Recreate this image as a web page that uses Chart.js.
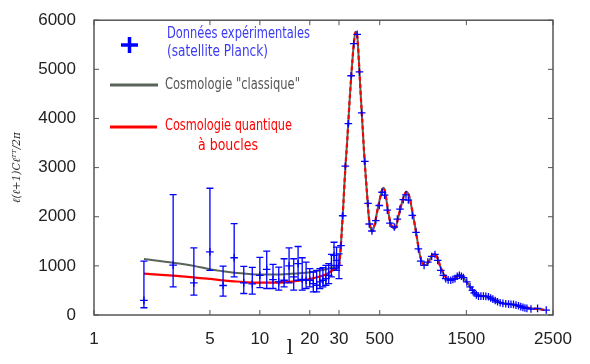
<!DOCTYPE html>
<html>
<head>
<meta charset="utf-8">
<script src="https://cdn.jsdelivr.net/npm/chart.js@4"></script>
<style>
  html, body { margin: 0; padding: 0; background: #fff; }
  #wrap { width: 590px; height: 364px; }
</style>
</head>
<body>
<div id="wrap"><canvas id="chart" width="590" height="364"></canvas></div>
<script>
// tick labels of the hybrid x axis (log up to 30, linear after)
const tickValues = [1, 5, 10, 20, 30, 500, 1500, 2500];

// low-l Planck points with asymmetric error bars
const lowL = [2, 3, 4, 5, 6, 7, 8, 9, 10, 11, 12, 13, 14, 15, 16, 17, 18, 19, 20, 21, 22, 23, 24, 25, 26, 27, 28, 29, 30];
const lowD = [297, 1016, 653, 1286, 600, 1165, 653, 633, 808, 929, 721, 673, 707, 1000, 774, 1044, 727, 707, 707, 640, 606, 673, 707, 741, 808, 1010, 1212, 1111, 1010];
const lowUp = [1097, 2451, 1368, 2580, 996, 1859, 990, 970, 1172, 1300, 1030, 976, 1145, 1368, 1145, 1394, 1165, 1077, 943, 875, 909, 943, 963, 1010, 1044, 1232, 1481, 1380, 1246];
const lowDown = [148, 572, 404, 909, 384, 774, 438, 424, 559, 539, 539, 505, 572, 653, 505, 707, 505, 539, 572, 471, 471, 539, 572, 606, 640, 774, 943, 909, 741];

// high-l binned points
const highL = [53, 73, 103, 138, 170, 200, 240, 266, 292, 328, 365, 379, 410, 455, 495, 528, 556, 587, 618, 668, 703, 734, 772, 803, 830, 876, 919, 946, 973, 1012, 1055, 1100, 1138, 1169, 1204, 1234, 1262, 1290, 1320, 1345, 1369, 1395, 1419, 1443, 1466, 1505, 1543, 1570, 1590, 1615, 1640, 1668, 1697, 1725, 1755, 1780, 1806, 1833, 1860, 1890, 1922, 1955, 1987, 2015, 2044, 2073, 2102, 2128, 2153, 2176, 2199, 2246, 2322, 2422];
const highD = [1414, 2020, 3030, 3893, 4869, 5522, 5711, 4949, 4114, 3128, 2270, 1852, 1710, 1919, 2229, 2498, 2440, 2135, 1869, 1791, 1953, 2155, 2347, 2444, 2340, 2027, 1683, 1347, 1097, 1010, 1077, 1192, 1232, 1111, 909, 808, 741, 715, 707, 725, 741, 790, 808, 790, 761, 673, 572, 500, 451, 410, 384, 384, 384, 380, 370, 345, 323, 295, 269, 250, 236, 228, 222, 218, 216, 200, 188, 170, 155, 142, 135, 121, 135, 101];

// model curves
const curveL = [2, 3, 4, 5, 6, 7, 8, 10, 12, 15, 20, 25, 28, 30, 40, 60, 80, 100, 125, 150, 175, 200, 220, 240, 260, 280, 300, 325, 350, 375, 400, 415, 440, 470, 500, 530, 545, 560, 590, 620, 650, 675, 700, 740, 780, 810, 840, 880, 920, 960, 1000, 1030, 1070, 1100, 1135, 1170, 1200, 1250, 1300, 1340, 1380, 1420, 1450, 1500, 1550, 1600, 1650, 1700, 1750, 1800, 1850, 1900, 2000, 2100, 2200, 2300, 2400];
const classicD = [1138, 1064, 1000, 930, 890, 860, 845, 822, 822, 835, 870, 930, 970, 1000, 1150, 1650, 2250, 2900, 3550, 4300, 4950, 5500, 5760, 5690, 5150, 4500, 3900, 3150, 2550, 1980, 1730, 1700, 1830, 2100, 2350, 2560, 2590, 2520, 2200, 1900, 1780, 1760, 1880, 2180, 2420, 2510, 2420, 2080, 1680, 1250, 1040, 1020, 1100, 1200, 1240, 1150, 980, 800, 720, 720, 770, 820, 790, 680, 560, 450, 390, 385, 370, 330, 280, 245, 220, 190, 150, 125, 105];
const loopD = [842, 800, 765, 735, 705, 685, 670, 660, 658, 675, 733, 822, 923, 1000, 1150, 1650, 2250, 2900, 3550, 4300, 4950, 5500, 5760, 5690, 5150, 4500, 3900, 3150, 2550, 1980, 1730, 1700, 1830, 2100, 2350, 2560, 2590, 2520, 2200, 1900, 1780, 1760, 1880, 2180, 2420, 2510, 2420, 2080, 1680, 1250, 1040, 1020, 1100, 1200, 1240, 1150, 980, 800, 720, 720, 770, 820, 790, 680, 560, 450, 390, 385, 370, 330, 280, 245, 220, 190, 150, 125, 105];

const legendLines = [
    ['Données expérimentales', '(satellite Planck)'],
    ['Cosmologie "classique"'],
    ['Cosmologie quantique', 'à boucles']
];

const BLUE = '#0000ff';
const GREY = '#58645a';
const RED = '#ff0000';

// log part of the axis for l <= 30, linear part after
const toAxis = function(l) {
    if (l <= 30) return 245 * Math.log10(l) / Math.log10(30);
    return 245 + 214 * (l - 30) / 2470;
};

const pts = function(ls, ds) {
    return ls.map((l, i) => ({x: toAxis(l), y: ds[i]}));
};

const errorBars = {
    id: 'errorBars',
    afterDatasetsDraw(chart) {
        const ctx = chart.ctx;
        const xs = chart.scales.x, ys = chart.scales.y;
        ctx.save();
        ctx.strokeStyle = BLUE;
        ctx.lineWidth = 1.3;
        lowL.forEach((l, i) => {
            const x = xs.getPixelForValue(toAxis(l));
            const y1 = ys.getPixelForValue(lowUp[i]);
            const y2 = ys.getPixelForValue(lowDown[i]);
            ctx.beginPath();
            ctx.moveTo(x, y1); ctx.lineTo(x, y2);
            ctx.moveTo(x - 3.5, y1); ctx.lineTo(x + 3.5, y1);
            ctx.moveTo(x - 3.5, y2); ctx.lineTo(x + 3.5, y2);
            ctx.stroke();
        });
        ctx.restore();
    }
};

const frame = {
    id: 'frame',
    afterDraw(chart) {
        const ctx = chart.ctx;
        const a = chart.chartArea;
        const xs = chart.scales.x, ys = chart.scales.y;
        ctx.save();
        ctx.strokeStyle = '#555';
        ctx.lineWidth = 1.5;
        ctx.strokeRect(a.left, a.top, a.right - a.left, a.bottom - a.top);
        ctx.lineWidth = 1;
        ctx.beginPath();
        xs.ticks.forEach(t => {
            const x = xs.getPixelForValue(t.value);
            ctx.moveTo(x, a.bottom); ctx.lineTo(x, a.bottom - 5);
            ctx.moveTo(x, a.top); ctx.lineTo(x, a.top + 5);
        });
        ys.ticks.forEach(t => {
            const y = ys.getPixelForValue(t.value);
            ctx.moveTo(a.left, y); ctx.lineTo(a.left + 5, y);
            ctx.moveTo(a.right, y); ctx.lineTo(a.right - 5, y);
        });
        ctx.stroke();

        // x axis title
        ctx.fillStyle = '#222';
        ctx.font = '20px "DejaVu Serif"';
        ctx.textAlign = 'center';
        ctx.textBaseline = 'middle';
        ctx.fillText('l', 290, 349);

        // legend
        const font = '15px "DejaVu Sans Condensed", Roboto, sans-serif';
        ctx.font = font;
        ctx.textAlign = 'left';
        ctx.strokeStyle = BLUE;
        ctx.lineWidth = 3.5;
        ctx.beginPath();
        ctx.moveTo(121, 45); ctx.lineTo(138, 45);
        ctx.moveTo(129.5, 37); ctx.lineTo(129.5, 53);
        ctx.stroke();
        ctx.fillStyle = '#3a3af5';
        ctx.fillText(legendLines[0][0], 167, 34, 143);
        ctx.fillText(legendLines[0][1], 167, 52, 101);

        ctx.strokeStyle = GREY;
        ctx.lineWidth = 3;
        ctx.beginPath(); ctx.moveTo(110, 85); ctx.lineTo(158, 85); ctx.stroke();
        ctx.fillStyle = '#555';
        ctx.fillText(legendLines[1][0], 165, 85, 135);

        ctx.strokeStyle = RED;
        ctx.beginPath(); ctx.moveTo(110, 127); ctx.lineTo(157, 127); ctx.stroke();
        ctx.fillStyle = RED;
        ctx.fillText(legendLines[2][0], 165, 126, 127);
        ctx.fillText(legendLines[2][1], 198, 146, 60);
        ctx.restore();
    }
};

const cut = toAxis(30);

new Chart(document.getElementById('chart'), {
    type: 'scatter',
    data: {
        datasets: [{
            label: legendLines[0].join(' '),
            data: pts(lowL, lowD).concat(pts(highL, highD)),
            pointStyle: 'cross',
            pointRadius: 3.8,
            pointBorderWidth: 1.3,
            borderColor: BLUE,
            backgroundColor: BLUE,
            showLine: false,
            order: 0
        }, {
            label: legendLines[2].join(' '),
            data: pts(curveL, loopD),
            showLine: true,
            borderColor: RED,
            borderWidth: 2.2,
            pointRadius: 0,
            cubicInterpolationMode: 'monotone',
            segment: {
                borderDash: c => c.p0.parsed.x >= cut ? [4, 3] : undefined
            },
            order: 1
        }, {
            label: legendLines[1][0],
            data: pts(curveL, classicD),
            showLine: true,
            borderColor: GREY,
            borderWidth: 2,
            pointRadius: 0,
            cubicInterpolationMode: 'monotone',
            order: 2
        }]
    },
    options: {
        responsive: false,
        animation: false,
        layout: {padding: {top: 18, right: 37, bottom: 0, left: 0}},
        plugins: {
            legend: {display: false},
            tooltip: {enabled: false}
        },
        scales: {
            x: {
                type: 'linear',
                min: 0,
                max: toAxis(2500),
                grid: {display: false},
                border: {display: false},
                afterBuildTicks: s => { s.ticks = tickValues.map(v => ({value: toAxis(v)})); },
                afterFit: s => { s.height = 49; },
                ticks: {
                    autoSkip: false,
                    maxRotation: 0,
                    padding: 6,
                    color: '#222',
                    font: {family: '"Liberation Sans", Arial, sans-serif', size: 17},
                    callback: (v, i) => tickValues[i]
                }
            },
            y: {
                min: 0,
                max: 6000,
                grid: {display: false},
                border: {display: false},
                afterFit: s => { s.width = 94; },
                ticks: {
                    stepSize: 1000,
                    padding: 10,
                    color: '#222',
                    font: {family: '"Liberation Sans", Arial, sans-serif', size: 17},
                    callback: v => String(v)
                },
                title: {
                    display: true,
                    text: 'ℓ(ℓ+1)Cℓᵀᵀ/2π',
                    color: '#333',
                    font: {family: '"DejaVu Serif", serif', size: 10.5, style: 'italic'},
                    padding: {top: 11, bottom: 0}
                }
            }
        }
    },
    plugins: [errorBars, frame]
});
</script>
</body>
</html>
